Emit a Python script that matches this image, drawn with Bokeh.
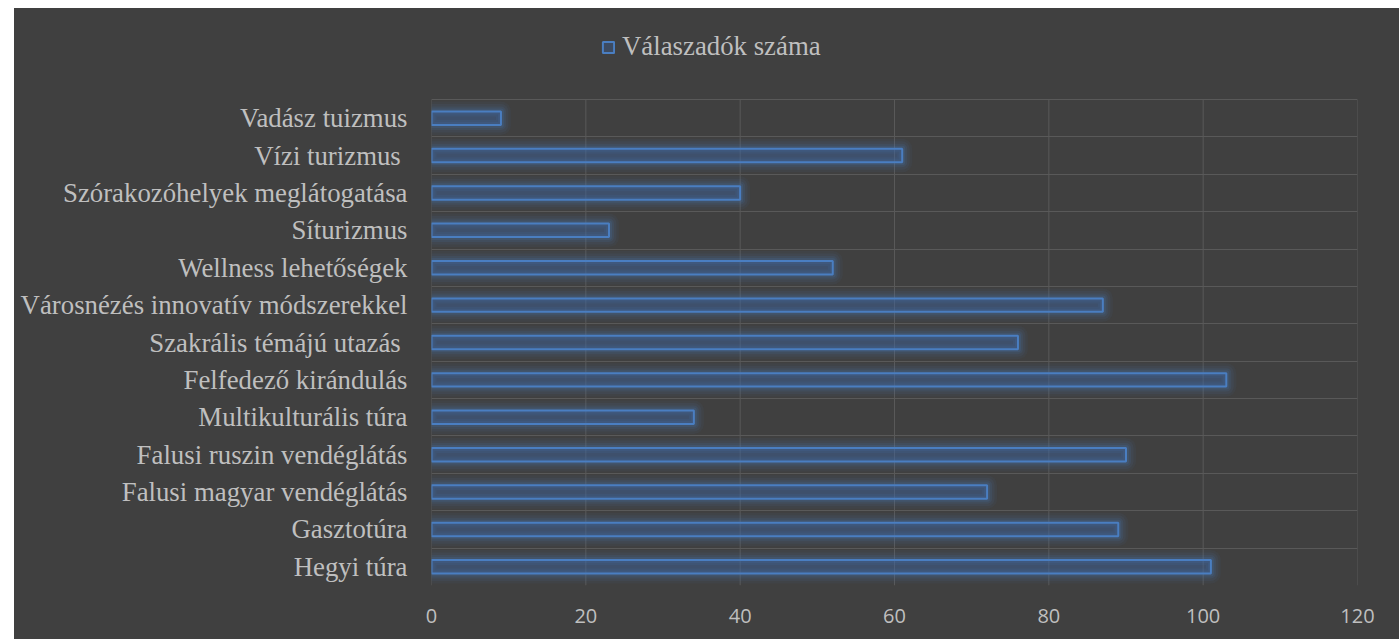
from bokeh.plotting import figure
from bokeh.models import (ColumnDataSource, Range1d, FixedTicker, Legend, LegendItem, Spacer)
from bokeh.layouts import row, column
from bokeh.embed import file_html
from bokeh.resources import INLINE

# ---- data (bottom to top) ----
categories = [
    "Hegyi túra",
    "Gasztotúra",
    "Falusi magyar vendéglátás",
    "Falusi ruszin vendéglátás",
    "Multikulturális túra",
    "Felfedező kirándulás",
    "Szakrális témájú utazás ",
    "Városnézés innovatív módszerekkel",
    "Wellness lehetőségek",
    "Síturizmus",
    "Szórakozóhelyek meglátogatása",
    "Vízi turizmus ",
    "Vadász tuizmus",
]
values = [101, 89, 72, 90, 34, 103, 76, 87, 52, 23, 40, 61, 9]
x_ticks = [0, 20, 40, 60, 80, 100, 120]
series_name = "Válaszadók száma"

BG = "#404040"
GRID = "#595959"
TXT = "#bfbfbf"
BLUE = "#4a7ec1"
FILL = "#3a62a0"
SERIF = "Liberation Serif"

n = len(categories)
pos = [i + 0.5 for i in range(n)]
src = ColumnDataSource(dict(y=pos, v=values, cat=categories))

# plot area: 486 px for the 13 bands; frame extends up to hold the legend
band_px = 486 / n
frame_px = 577
y_top = frame_px / band_px

p = figure(width=1385, height=631, output_backend="svg", toolbar_location=None,
           x_range=Range1d(0, 120), y_range=Range1d(0, y_top),
           min_border_left=417, min_border_right=42, min_border_top=0, min_border_bottom=54)
p.background_fill_color = BG
p.border_fill_color = BG
p.outline_line_color = None
p.styles = {"background-color": BG}

# vertical grid lines, limited to the bar area
p.segment(x0=x_ticks, x1=x_ticks, y0=0, y1=n, line_color=GRID, line_width=1, level="underlay")

# glow layers
for w, a in [(20, 0.06), (15, 0.08), (10, 0.11), (6, 0.15)]:
    p.hbar(y="y", left=0, right="v", height=0.36, source=src, fill_color=None,
           line_color=BLUE, line_alpha=a, line_width=w, line_join="round")

main = p.hbar(y="y", left=0, right="v", height=0.36, source=src,
              fill_color=FILL, fill_alpha=0.35, line_color=BLUE, line_width=2)

p.xaxis.ticker = FixedTicker(ticks=x_ticks)
p.xaxis.axis_line_color = None
p.xaxis.major_tick_line_color = None
p.xaxis.minor_tick_line_color = None
p.xaxis.major_label_text_font = "Open Sans"
p.xaxis.major_label_text_font_size = "20px"
p.xaxis.major_label_text_color = TXT
p.xaxis.major_label_standoff = 17

p.yaxis.ticker = FixedTicker(ticks=pos)
p.yaxis.major_label_overrides = {pp: c for pp, c in zip(pos, categories)}
p.yaxis.axis_line_color = None
p.yaxis.major_tick_line_color = None
p.yaxis.minor_tick_line_color = None
p.yaxis.major_tick_out = 0
p.yaxis.major_tick_in = 0
p.yaxis.minor_tick_out = 0
p.yaxis.major_label_text_font = SERIF
p.yaxis.major_label_text_font_size = "26.8px"
p.yaxis.major_label_text_color = TXT
p.yaxis.major_label_standoff = 24

p.xgrid.visible = False
p.ygrid.ticker = FixedTicker(ticks=list(range(n + 1)))
p.ygrid.grid_line_color = GRID
p.ygrid.grid_line_width = 1

legend = Legend(items=[LegendItem(label=series_name, renderers=[main])],
                location=(170, 523), orientation="horizontal",
                glyph_width=14, glyph_height=14, label_standoff=7,
                padding=0, margin=0, spacing=0,
                background_fill_alpha=0, border_line_color=None,
                label_text_font=SERIF, label_text_font_size="26.8px",
                label_text_color=TXT)
p.add_layout(legend, "center")

layout = column(Spacer(width=1399, height=8),
                row(Spacer(width=14, height=631), p))
open("out.html", "w").write(file_html(layout, INLINE))
